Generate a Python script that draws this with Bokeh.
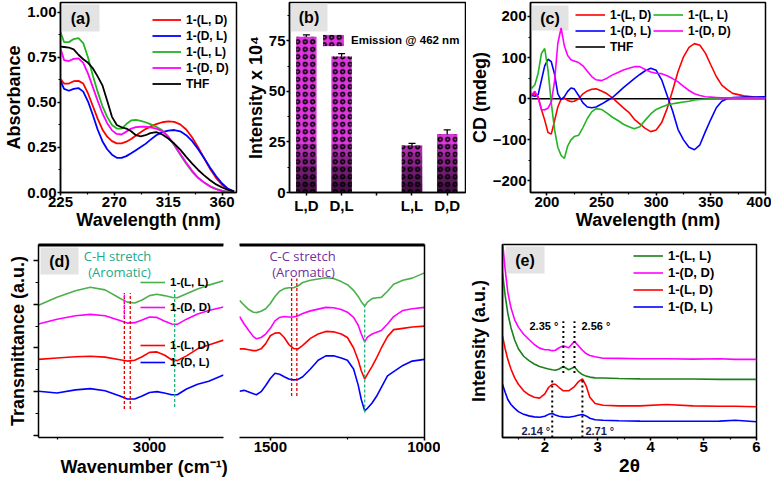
import numpy as np
from bokeh.plotting import figure
from bokeh.layouts import row, column
from bokeh.models import (ColumnDataSource, Legend, LegendItem, Label, BoxAnnotation, Whisker,
                          TeeHead, Title, LinearAxis, SingleIntervalTicker, FixedTicker, Range1d,
                          NumeralTickFormatter)
from bokeh.core.properties import value
from bokeh.embed import file_html
from bokeh.resources import INLINE

FONT = "Liberation Sans"
RED, BLUE, GREEN, MAG, BLACK = "#ff0000", "#0000ff", "#22b422", "#ff00ff", "#000000"

# ---------------- (a) UV-vis absorbance ----------------
uv_nm = [225, 228, 232, 236, 240, 244, 248, 252, 256, 260, 264, 268, 272, 276, 280, 284, 288,
         292, 296, 300, 305, 310, 315, 320, 325, 330, 335, 340, 345, 350, 355, 360, 365, 370]
abs_LD = [0.630, 0.605, 0.605, 0.618, 0.620, 0.605, 0.550, 0.480, 0.410, 0.350, 0.310, 0.285,
          0.273, 0.273, 0.282, 0.297, 0.316, 0.335, 0.352, 0.366, 0.380, 0.390, 0.395, 0.392,
          0.378, 0.350, 0.305, 0.250, 0.190, 0.130, 0.080, 0.042, 0.017, 0.005]
abs_DL = [0.620, 0.575, 0.565, 0.575, 0.580, 0.560, 0.505, 0.430, 0.350, 0.285, 0.240, 0.210,
          0.193, 0.192, 0.202, 0.218, 0.235, 0.252, 0.270, 0.292, 0.318, 0.335, 0.344, 0.347,
          0.340, 0.318, 0.285, 0.240, 0.190, 0.138, 0.090, 0.050, 0.020, 0.006]
abs_LL = [0.890, 0.835, 0.835, 0.852, 0.857, 0.830, 0.750, 0.650, 0.560, 0.480, 0.420, 0.375,
          0.355, 0.355, 0.380, 0.400, 0.403, 0.398, 0.390, 0.380, 0.365, 0.345, 0.310, 0.262,
          0.210, 0.160, 0.115, 0.080, 0.055, 0.035, 0.020, 0.010, 0.004, 0.001]
abs_DD = [0.800, 0.735, 0.730, 0.742, 0.745, 0.720, 0.660, 0.585, 0.510, 0.440, 0.385, 0.345,
          0.325, 0.322, 0.338, 0.355, 0.363, 0.365, 0.365, 0.362, 0.355, 0.340, 0.310, 0.265,
          0.215, 0.165, 0.120, 0.082, 0.055, 0.033, 0.018, 0.008, 0.003, 0.001]
abs_THF = [0.810, 0.808, 0.805, 0.795, 0.765, 0.740, 0.720, 0.690, 0.645, 0.595, 0.510, 0.420,
           0.375, 0.362, 0.355, 0.340, 0.318, 0.312, 0.318, 0.330, 0.335, 0.322, 0.300, 0.272,
           0.238, 0.198, 0.160, 0.125, 0.095, 0.068, 0.045, 0.028, 0.014, 0.005]

# ---------------- (b) emission intensity ----------------
bar_labels = ["L,D", "D,L", "L,L", "D,D"]
bar_pos = [1, 2, 4, 5]
intensity = [77.0, 67.3, 23.3, 29.0]
intensity_err = [1.0, 1.4, 1.0, 2.0]

# ---------------- (c) CD spectra ----------------
cd_nm = [186, 189, 192, 195, 198, 201, 204, 207, 210, 213, 216, 219, 222, 225, 229, 233, 237,
         241, 245, 250, 255, 260, 265, 270, 275, 280, 285, 290, 295, 300, 305, 310, 315, 320,
         325, 330, 335, 340, 345, 350, 355, 360, 365, 370, 380, 390, 400]
cd_LD = [10, 12, 5, -26, -52, -82, -86, -54, -20, -1, 2, -4, -7, -6, 0, 12, 19, 23, 24, 19, 12,
         2, -10, -22, -33, -50, -61, -72, -80, -76, -58, -24, 20, 66, 102, 125, 134, 130, 111,
         82, 54, 33, 22, 13, 7, 4, 3]
cd_DL = [8, 6, 10, 45, 80, 96, 90, 60, 12, -2, 5, 18, 26, 24, 8, -10, -20, -22, -20, -13, -5,
         3, 15, 27, 38, 49, 59, 68, 74, 69, 46, 8, -30, -75, -100, -118, -124, -112, -80, -50,
         -22, -6, 0, 3, 4, 4, 5]
cd_LL = [25, 34, 62, 110, 122, 70, -10, -75, -118, -138, -145, -115, -100, -92, -89, -70, -48,
         -32, -24, -26, -35, -45, -53, -62, -68, -73, -68, -52, -37, -26, -20, -15, -12, -10,
         -8, -6, -3, -2, -1, 0, 0, 0, 0, 0, 0, 0, 0]
cd_DD = [10, 18, 2, -26, -27, -23, -8, 42, 135, 172, 128, 105, 95, 92, 88, 80, 67, 54, 46, 44,
         50, 58, 64, 70, 74, 78, 78, 71, 65, 62, 61, 56, 49, 41, 30, 20, 12, 8, 5, 4, 3, 2, 2, 2,
         2, 2, 2]
cd_thf_nm = [186, 400]
cd_THF = [0, 0]

# ---------------- (d) FTIR ----------------
wn_ch = [3300, 3250, 3200, 3160, 3120, 3080, 3060, 3040, 3020, 3000, 2980, 2960, 2940, 2925,
         2900, 2870, 2840, 2800]
ir_ch_LL = [2.98, 3.16, 3.31, 3.39, 3.33, 3.14, 3.05, 3.03, 3.10, 3.20, 3.23, 3.20, 3.16, 3.15,
            3.24, 3.35, 3.44, 3.54]
ir_ch_DD = [2.55, 2.66, 2.74, 2.77, 2.74, 2.63, 2.57, 2.58, 2.64, 2.71, 2.70, 2.62, 2.55, 2.54,
            2.66, 2.78, 2.86, 2.94]
ir_ch_LD = [1.74, 1.77, 1.80, 1.81, 1.79, 1.73, 1.70, 1.72, 1.80, 1.90, 1.91, 1.84, 1.73, 1.71,
            1.82, 1.98, 2.07, 2.18]
ir_ch_DL = [1.01, 0.97, 1.04, 1.07, 1.02, 0.90, 0.83, 0.83, 0.90, 0.98, 1.00, 0.97, 0.93, 0.93,
            1.06, 1.17, 1.24, 1.38]
wn_cc = [1600, 1585, 1570, 1555, 1545, 1530, 1515, 1500, 1485, 1470, 1455, 1440, 1425, 1410,
         1395, 1370, 1345, 1320, 1295, 1270, 1250, 1230, 1215, 1205, 1194, 1185, 1170, 1155,
         1140, 1120, 1100, 1070, 1040, 1000]
ir_cc_LL = [3.09, 2.98, 2.88, 2.82, 2.81, 2.84, 2.90, 3.02, 3.18, 3.30, 3.36, 3.38, 3.38, 3.42,
            3.50, 3.55, 3.58, 3.61, 3.59, 3.52, 3.45, 3.32, 3.18, 3.06, 2.96, 3.05, 3.13, 3.15,
            3.16, 3.30, 3.46, 3.55, 3.60, 3.72]
ir_cc_DD = [2.72, 2.55, 2.40, 2.26, 2.21, 2.24, 2.32, 2.45, 2.62, 2.70, 2.72, 2.71, 2.71, 2.74,
            2.79, 2.85, 2.89, 2.93, 2.92, 2.88, 2.82, 2.70, 2.52, 2.32, 2.14, 2.25, 2.32, 2.36,
            2.40, 2.55, 2.72, 2.86, 2.90, 2.93]
ir_cc_LD = [1.98, 1.98, 1.96, 1.94, 1.94, 1.98, 2.10, 2.28, 2.34, 2.35, 2.24, 2.08, 1.99, 1.98,
            2.06, 2.22, 2.32, 2.38, 2.37, 2.32, 2.24, 2.00, 1.72, 1.48, 1.29, 1.40, 1.58, 1.78,
            2.00, 2.26, 2.42, 2.45, 2.48, 2.50]
ir_cc_DL = [1.01, 1.03, 0.99, 0.95, 0.93, 1.00, 1.14, 1.30, 1.42, 1.40, 1.34, 1.29, 1.27, 1.28,
            1.34, 1.52, 1.72, 1.82, 1.82, 1.77, 1.72, 1.52, 1.15, 0.82, 0.56, 0.62, 0.74, 0.90,
            1.10, 1.36, 1.46, 1.60, 1.70, 1.74]
ch_marks_red = [3068, 3052]
ch_marks_green = [2932]
cc_marks_red = [1431, 1414]
cc_marks_green = [1194]

# ---------------- (e) XRD ----------------
two_theta = [1.2, 1.25, 1.3, 1.36, 1.43, 1.5, 1.6, 1.7, 1.8, 1.9, 2.0, 2.07, 2.14, 2.2, 2.27,
             2.35, 2.45, 2.56, 2.63, 2.71, 2.78, 2.85, 2.95, 3.1, 3.4, 3.8, 4.3, 4.8, 5.3, 5.6, 6.0]
xrd_LL = [85.3, 73.6, 64.4, 56.9, 50.5, 46.0, 42.1, 39.8, 38.1, 36.8, 36.0, 35.5, 35.1, 34.8,
          35.5, 36.8, 35.1, 36.5, 34.3, 32.6, 31.8, 31.3, 30.9, 30.8, 30.6, 30.4, 30.3, 30.3,
          30.1, 30.1, 30.1]
xrd_DD = [102.0, 87.0, 75.3, 67.2, 61.0, 57.2, 53.5, 50.8, 48.2, 46.3, 45.5, 45.5, 45.0, 45.2,
          46.5, 47.5, 46.5, 49.8, 47.7, 45.2, 43.5, 42.5, 41.8, 41.1, 41.0, 40.8, 40.8, 40.6,
          40.8, 40.5, 40.5]
xrd_LD = [52.7, 46.0, 40.5, 35.5, 30.9, 27.6, 24.2, 22.1, 20.9, 20.4, 22.6, 25.9, 27.6, 27.6,
          25.9, 24.2, 24.2, 26.4, 28.8, 30.4, 26.8, 20.9, 17.6, 16.7, 16.4, 16.4, 17.1, 16.4,
          16.2, 16.2, 15.9]
xrd_DL = [27.6, 23.4, 19.7, 17.1, 15.1, 13.4, 12.0, 11.2, 10.7, 10.5, 11.0, 12.0, 12.4, 11.7,
          11.0, 10.7, 10.5, 11.0, 11.5, 11.9, 11.2, 10.0, 9.2, 8.9, 8.7, 8.5, 8.4, 8.4, 8.5,
          8.9, 8.2]
xrd_upper_peaks = [2.35, 2.56]
xrd_lower_peaks = [2.14, 2.71]


# ---------------- helpers ----------------
def style_axis(ax, tick=15, lab=18):
    ax.axis_line_width = 1.5
    ax.axis_line_color = "black"
    ax.major_tick_line_width = 1.5
    ax.minor_tick_line_width = 1.2
    ax.major_tick_out = 3
    ax.major_tick_in = 0
    ax.minor_tick_out = 2
    ax.minor_tick_in = 0
    ax.major_label_text_font = FONT
    ax.major_label_text_font_style = "bold"
    ax.major_label_text_font_size = f"{tick}px"
    ax.major_label_text_color = "black"
    ax.major_label_standoff = 1
    ax.axis_label_text_font = FONT
    ax.axis_label_text_font_style = "bold"
    ax.axis_label_text_font_size = f"{lab}px"
    ax.axis_label_text_color = "black"
    ax.axis_label_standoff = 0


def new_fig(fw, fh, xr, yr, bl, br, bt, bb, **kw):
    p = figure(frame_width=fw, frame_height=fh, x_range=xr, y_range=yr,
               toolbar_location=None, output_backend="svg", min_border_left=bl,
               min_border_right=br, min_border_top=bt, min_border_bottom=bb, **kw)
    p.xgrid.visible = False
    p.ygrid.visible = False
    p.outline_line_color = "black"
    p.outline_line_width = 1.5
    p.outline_line_alpha = 1.0
    p.background_fill_color = "white"
    p.border_fill_color = "white"
    for ax in p.axis:
        style_axis(ax)
    return p


def px2x(xr, fw, px):
    return xr.start + (xr.end - xr.start) * px / fw


def px2y(yr, fh, py):
    return yr.end - (yr.end - yr.start) * py / fh


def tag(p, text, fw, fh, x0, x1, t0, t1):
    xr, yr = p.x_range, p.y_range
    p.add_layout(BoxAnnotation(left=px2x(xr, fw, x0), right=px2x(xr, fw, x1),
                               top=px2y(yr, fh, t0), bottom=px2y(yr, fh, t1),
                               fill_color="#e3e3e3", fill_alpha=1.0, line_color=None,
                               level="underlay"))
    p.add_layout(Label(x=px2x(xr, fw, (x0 + x1) / 2), y=px2y(yr, fh, (t0 + t1) / 2), text=text,
                       text_align="center", text_baseline="middle", text_font=FONT,
                       text_font_style="bold", text_font_size="16px", text_color="black"))


def note(p, fw, fh, px, py, text, size="13px", color="black", font=FONT, style="normal"):
    p.add_layout(Label(x=px2x(p.x_range, fw, px), y=px2y(p.y_range, fh, py), text=text,
                       text_align="center", text_baseline="middle", text_font=font,
                       text_font_style=style, text_font_size=size, text_color=color))


def legend(p, items, loc, fs=12.5, gw=29, gh=15, sp=1):
    lg = Legend(items=[LegendItem(label=l, renderers=rs) for l, rs in items], location=loc,
                orientation="vertical", label_text_font=FONT, label_text_font_style="bold",
                label_text_font_size=f"{fs}px", label_text_color="black", glyph_width=gw,
                glyph_height=gh, label_height=gh, spacing=sp, padding=0, margin=0,
                border_line_color=None, background_fill_alpha=0, label_standoff=5)
    p.add_layout(lg)


def top_edge(p, fh):
    # the frame's top edge only (broken-axis panels have no side edge at the break)
    ax = LinearAxis(ticker=FixedTicker(ticks=[-1e9], minor_ticks=[]),
                    major_tick_line_color=None, minor_tick_line_color=None,
                    axis_line_width=2, axis_line_color="black",
                    major_label_standoff=0, axis_label_standoff=0)
    p.add_layout(ax, "above")
    p.hspan(y=[px2y(p.y_range, fh, 1.0)], line_color="black", line_width=2)


# frame sizes
FH1, FH2 = 190, 193
FWa, FWb, FWc = 176, 176, 235
FWd, FWe = 185, 254

# ---------------- panel (a) ----------------
pa = new_fig(FWa, FH1, Range1d(225, 372), Range1d(0, 1.055), 60, 5, 2, 44)
pa.xaxis.ticker = SingleIntervalTicker(interval=45, num_minor_ticks=2)
pa.yaxis.ticker = SingleIntervalTicker(interval=0.25, num_minor_ticks=2)
pa.yaxis.formatter = NumeralTickFormatter(format="0.00")
pa.xaxis.axis_label = "Wavelength (nm)"
pa.yaxis.axis_label = "Absorbance"
tag(pa, "(a)", FWa, FH1, 1, 39, 2, 29)
ra = []
for ys, col in [(abs_LD, RED), (abs_DL, BLUE), (abs_LL, GREEN), (abs_DD, MAG), (abs_THF, BLACK)]:
    ra.append(pa.line(uv_nm, ys, line_color=col, line_width=1.8))
legend(pa, [("1-(L, D)", [ra[0]]), ("1-(D, L)", [ra[1]]), ("1-(L, L)", [ra[2]]),
            ("1-(D, D)", [ra[3]]), ("THF", [ra[4]])], (92, FH1 - 10 - 79), fs=12)

# ---------------- panel (b) ----------------
pb = new_fig(FWb, FH1, Range1d(0.52, 5.52), Range1d(0, 94), 48, 1, 2, 44)
pb.xaxis.ticker = FixedTicker(ticks=[1, 2, 3, 4, 5])
pb.xaxis.major_label_overrides = {1: bar_labels[0], 2: bar_labels[1], 3: "",
                                  4: bar_labels[2], 5: bar_labels[3]}
pb.xaxis.minor_tick_line_color = None
pb.yaxis.ticker = SingleIntervalTicker(interval=25, num_minor_ticks=2)
pb.yaxis.axis_label = "Intensity x 10\u2074"
tag(pb, "(b)", FWb, FH1, 1, 38, 1, 29)
src_b = ColumnDataSource(dict(x=bar_pos, top=intensity,
                              upper=[v + e for v, e in zip(intensity, intensity_err)],
                              lower=[v - e for v, e in zip(intensity, intensity_err)]))
BW = 0.58
rb_base = pb.vbar(x="x", top="top", width=BW, bottom=0, source=src_b,
                  fill_color="#de36de", line_color=None)
for lvl in [24, 18, 13, 8, 4]:
    pb.vbar(x=bar_pos, top=list(np.minimum(intensity, lvl)), width=BW, bottom=0,
            fill_color="black", fill_alpha=0.2, line_color=None)
rb_hatch = pb.vbar(x="x", top="top", width=BW, bottom=0, source=src_b, fill_alpha=0,
                   hatch_pattern="ring", hatch_color="black", hatch_scale=7.5, hatch_weight=1.6,
                   line_color=None)
pb.add_layout(Whisker(base="x", upper="upper", lower="lower", source=src_b, line_color="black",
                      line_width=1.3,
                      upper_head=TeeHead(size=7, line_color="black", line_width=1.3),
                      lower_head=TeeHead(size=7, line_color="black", line_width=1.3)))
legend(pb, [("Emission @ 462 nm", [rb_base, rb_hatch])], (31, FH1 - 31 - 14), fs=11.5,
       gw=26, gh=14)

# ---------------- panel (c) ----------------
pc = new_fig(FWc, FH1, Range1d(185, 400), Range1d(-228, 234), 61, 6, 2, 44)
pc.xaxis.ticker = SingleIntervalTicker(interval=50, num_minor_ticks=2)
pc.yaxis.ticker = SingleIntervalTicker(interval=100, num_minor_ticks=2)
pc.xaxis.axis_label = "Wavelength (nm)"
pc.yaxis.axis_label = "CD (mdeg)"
tag(pc, "(c)", FWc, FH1, 1, 38, 3, 28)
rc = {}
rc["thf"] = pc.line(cd_thf_nm, cd_THF, line_color=BLACK, line_width=1.6)
for key, ys, col in [("ld", cd_LD, RED), ("dl", cd_DL, BLUE), ("ll", cd_LL, GREEN),
                     ("dd", cd_DD, MAG)]:
    rc[key] = pc.line(cd_nm, ys, line_color=col, line_width=1.6)
legend(pc, [("1-(L, D)", [rc["ld"]]), ("1-(D, L)", [rc["dl"]]), ("THF", [rc["thf"]])],
       (45, FH1 - 5 - 47), fs=12, gw=30)
legend(pc, [("1-(L, L)", [rc["ll"]]), ("1-(D, D)", [rc["dd"]])], (123, FH1 - 5 - 31),
       fs=12, gw=30)

# ---------------- panel (d) ----------------
IRG, IRM, IRR, IRB = "#4cb04c", "#ff00ff", "#ff0000", "#0000ff"
pd1 = new_fig(FWd, FH2, Range1d(3300, 2800), Range1d(-0.05, 4.37), 38, 16, 8, 46)
pd1.outline_line_color = None
pd1.xaxis.ticker = SingleIntervalTicker(interval=500, num_minor_ticks=2)
pd1.yaxis.ticker = SingleIntervalTicker(interval=1, num_minor_ticks=2)
pd1.yaxis.major_label_overrides = {0: "", 1: "", 2: "", 3: "", 4: ""}
pd1.yaxis.major_label_standoff = 0
pd1.yaxis.major_tick_out = 5
pd1.yaxis.minor_tick_out = 3
pd1.yaxis.axis_label = "Transmittance (a.u.)"
pd1.yaxis.axis_label_standoff = 6
pd1.add_layout(Title(text="Wavenumber (cm\u207b\u00b9)", align="left", offset=22, standoff=0,
                     text_font=FONT, text_font_style="bold", text_font_size="18px",
                     text_color="black"), "below")
top_edge(pd1, FH2)
tag(pd1, "(d)", FWd, FH2, 2, 40, 3, 30)
rd = {}
for key, ys, col in [("ll", ir_ch_LL, IRG), ("dd", ir_ch_DD, IRM), ("ld", ir_ch_LD, IRR),
                     ("dl", ir_ch_DL, IRB)]:
    rd[key] = pd1.line(wn_ch, ys, line_color=col, line_width=1.6)
pd1.segment(x0=ch_marks_red, x1=ch_marks_red, y0=[0.6] * 2, y1=[3.26] * 2,
            line_color="#e00000", line_width=1.3, line_dash="3 2")
pd1.segment(x0=ch_marks_red[:1], x1=ch_marks_red[:1], y0=[2.7], y1=[3.26],
            line_color="#ff00ff", line_width=1.3, line_dash="3 2")
pd1.segment(x0=ch_marks_green, x1=ch_marks_green, y0=[0.65], y1=[3.33],
            line_color="#1fb47a", line_width=1.3, line_dash="3 2")
note(pd1, FWd, FH2, 79, 11, "C-H stretch", color="#1fa88a", font="Open Sans")
note(pd1, FWd, FH2, 81, 27, "(Aromatic)", color="#1fa88a", font="Open Sans")
for lab, key, c in [("1-(L, L)", "ll", 38), ("1-(D, D)", "dd", 63), ("1-(L, D)", "ld", 101),
                    ("1-(D, L)", "dl", 118)]:
    legend(pd1, [(lab, [rd[key]])], (102, FH2 - c - 7), fs=11.5, gw=25, gh=14)

pd2 = new_fig(FWd, FH2, Range1d(1600, 1000), Range1d(-0.05, 4.37), 0, 16, 8, 46,
              y_axis_location="right")
pd2.outline_line_color = None
pd2.xaxis.ticker = SingleIntervalTicker(interval=500, num_minor_ticks=2)
pd2.yaxis.ticker = FixedTicker(ticks=[-1e9], minor_ticks=[])
pd2.yaxis.major_label_standoff = 0
top_edge(pd2, FH2)
for key, ys, col in [("ll", ir_cc_LL, IRG), ("dd", ir_cc_DD, IRM), ("ld", ir_cc_LD, IRR),
                     ("dl", ir_cc_DL, IRB)]:
    pd2.line(wn_cc, ys, line_color=col, line_width=1.6)
pd2.segment(x0=cc_marks_red, x1=cc_marks_red, y0=[0.9] * 2, y1=[3.59] * 2,
            line_color="#e00000", line_width=1.3, line_dash="3 2")
pd2.segment(x0=cc_marks_green, x1=cc_marks_green, y0=[0.52], y1=[2.98],
            line_color="#1fb47a", line_width=1.3, line_dash="3 2")
note(pd2, FWd, FH2, 63, 11, "C-C stretch", color="#7030a0", font="Open Sans")
note(pd2, FWd, FH2, 64, 27, "(Aromatic)", color="#7030a0", font="Open Sans")

# ---------------- panel (e) ----------------
pe = new_fig(FWe, FH2, Range1d(1.2, 6.0), Range1d(0, 100), 62, 12, 8, 46)
pe.xaxis.ticker = SingleIntervalTicker(interval=1, num_minor_ticks=2)
pe.yaxis.ticker = FixedTicker(ticks=[-1e9], minor_ticks=[])
pe.yaxis.major_label_standoff = 0
pe.yaxis.axis_label = "Intensity (a.u.)"
pe.yaxis.axis_label_standoff = 14
pe.xaxis.axis_label = "2\u03b8"
pe.xaxis.axis_label_text_font_size = "19px"
tag(pe, "(e)", FWe, FH2, 3, 42, 2, 29)
re_ = {}
for key, ys, col in [("ll", xrd_LL, "#1a801a"), ("dd", xrd_DD, MAG), ("ld", xrd_LD, RED),
                     ("dl", xrd_DL, BLUE)]:
    re_[key] = pe.line(two_theta, ys, line_color=col, line_width=1.6)
pe.segment(x0=xrd_upper_peaks, x1=xrd_upper_peaks, y0=[33.4] * 2, y1=[60.2] * 2,
           line_color="black", line_width=2, line_dash="2 3")
pe.segment(x0=xrd_lower_peaks, x1=xrd_lower_peaks, y0=[0.0] * 2, y1=[30.8] * 2,
           line_color="black", line_width=2, line_dash="2 3")
pe.text(x=xrd_upper_peaks[:1], y=[57.7], text=[f"{xrd_upper_peaks[0]:.2f} \u00b0"],
        x_offset=-5, text_align="right", text_baseline="middle", text_font=value(FONT),
        text_font_style="bold", text_font_size="11px", text_color="black")
pe.text(x=xrd_upper_peaks[1:], y=[57.7], text=[f"{xrd_upper_peaks[1]:.2f} \u00b0"],
        x_offset=7, text_align="left", text_baseline="middle", text_font=value(FONT),
        text_font_style="bold", text_font_size="11px", text_color="black")
pe.text(x=xrd_lower_peaks[:1], y=[3.3], text=[f"{xrd_lower_peaks[0]:.2f} \u00b0"],
        x_offset=-2, text_align="right", text_baseline="middle", text_font=value(FONT),
        text_font_style="bold", text_font_size="11px", text_color="#1c1c50")
pe.text(x=xrd_lower_peaks[1:], y=[3.3], text=[f"{xrd_lower_peaks[1]:.2f} \u00b0"],
        x_offset=3, text_align="left", text_baseline="middle", text_font=value(FONT),
        text_font_style="bold", text_font_size="11px", text_color="#1c1c50")
legend(pe, [("1-(L, L)", [re_["ll"]]), ("1-(D, D)", [re_["dd"]]), ("1-(L, D)", [re_["ld"]]),
            ("1-(D, L)", [re_["dl"]])], (131, FH2 - 4 - 66), fs=13, gw=30, gh=15, sp=2)

layout = column(row(pa, pb, pc), row(pd1, pd2, pe))
open("out.html", "w").write(file_html(layout, INLINE))
